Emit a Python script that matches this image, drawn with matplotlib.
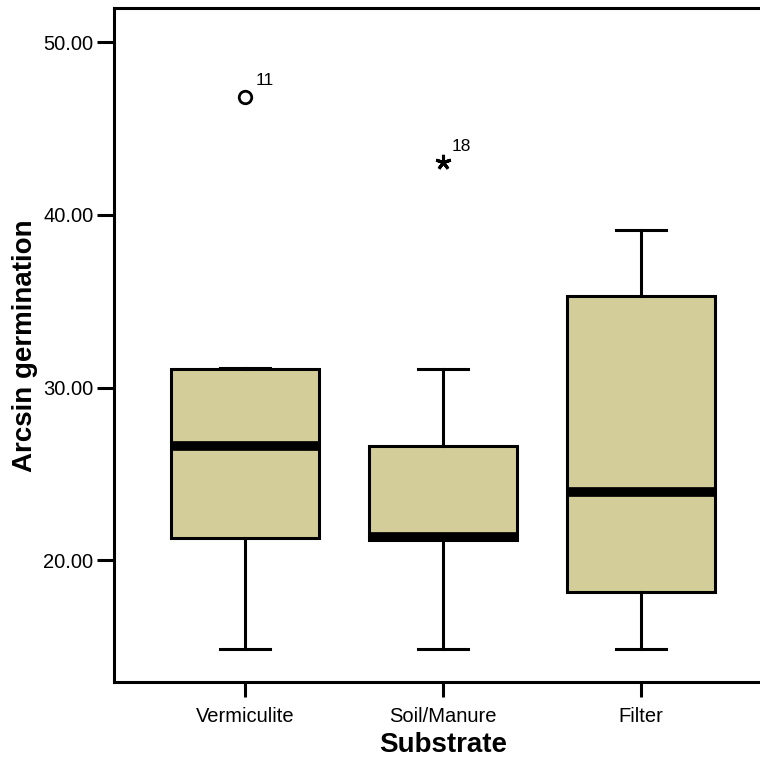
import matplotlib
matplotlib.use('Agg')
import matplotlib.pyplot as plt

plt.rcParams['font.family'] = ['Liberation Sans', 'DejaVu Sans']

# data
groups = ['Vermiculite', 'Soil/Manure', 'Filter']
whislo = [14.9, 14.9, 14.9]
q1 = [21.3, 21.2, 18.15]
med = [26.6, 21.35, 23.95]
q3 = [31.1, 26.6, 35.3]
whishi = [31.15, 31.1, 39.15]

# outliers (circle) and extremes (star), with case numbers
out_x = [1]
out_y = [46.85]
out_lab = ['11']
ext_x = [2]
ext_y = [43.05]
ext_lab = ['18']

yticks = [20, 30, 40, 50]

stats = []
for i in range(len(groups)):
    stats.append({'label': groups[i], 'whislo': whislo[i], 'q1': q1[i],
                  'med': med[i], 'q3': q3[i], 'whishi': whishi[i], 'fliers': []})

fig = plt.figure(figsize=(7.6, 7.64), dpi=100)
ax = fig.add_axes([0.1505, 0.107, 0.8646, 0.882])

ax.bxp(stats, positions=[1, 2, 3], widths=0.75, capwidths=0.25,
       patch_artist=True, showfliers=False,
       boxprops=dict(facecolor='#D3CE99', edgecolor='black', linewidth=2.2),
       medianprops=dict(color='black', linewidth=7, solid_capstyle='butt'),
       whiskerprops=dict(color='black', linewidth=2.2),
       capprops=dict(color='black', linewidth=2.2))

ax.plot(out_x, out_y, 'o', ms=9, mfc='white', mec='black', mew=2, ls='none')
for x, y, t in zip(out_x, out_y, out_lab):
    ax.annotate(t, (x, y), xytext=(8, 8), textcoords='offset points', fontsize=12.5)
ax.plot(ext_x, ext_y, marker=(5, 2, 0), ms=11, color='black', mew=2.2, ls='none')
for x, y, t in zip(ext_x, ext_y, ext_lab):
    ax.annotate(t, (x, y), xytext=(6, 8), textcoords='offset points', fontsize=12.5)

ax.set_xlim(0.34, 3.66)
ax.set_ylim(12.95, 51.95)
ax.set_yticks(yticks)
ax.set_yticklabels(['%.2f' % v for v in yticks])
ax.set_xticks([1, 2, 3])
ax.set_xticklabels(groups)

for s in ax.spines.values():
    s.set_linewidth(2.2)
ax.spines['right'].set_visible(False)
ax.tick_params(axis='both', width=2.2, length=12, labelsize=14.5, pad=3)
ax.tick_params(axis='x', length=11, pad=7)

ax.set_xlabel('Substrate', fontsize=20, fontweight='bold', labelpad=4)
ax.set_ylabel('Arcsin germination', fontsize=20, fontweight='bold', labelpad=4)

fig.savefig('out.png', dpi=100)
